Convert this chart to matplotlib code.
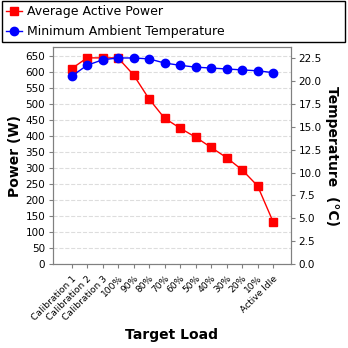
import matplotlib
matplotlib.use("Agg")
import matplotlib.pyplot as plt

loads = ["Calibration 1", "Calibration 2", "Calibration 3", "100%", "90%", "80%",
         "70%", "60%", "50%", "40%", "30%", "20%", "10%", "Active Idle"]
power = [609, 643, 643, 643, 590, 515, 455, 424, 396, 364, 332, 294, 244, 132]
temp = [20.5, 21.7, 22.3, 22.5, 22.5, 22.4, 21.95, 21.7, 21.5, 21.4, 21.3, 21.2, 21.1, 20.9]

fig = plt.figure(figsize=(3.48, 3.48), dpi=100)
ax = fig.add_axes([0.152, 0.241, 0.684, 0.624])
ax2 = ax.twinx()

x = list(range(len(loads)))
l1, = ax.plot(x, power, color="red", marker="s", markersize=6, linewidth=1, label="Average Active Power")
l2, = ax2.plot(x, temp, color="blue", marker="o", markersize=6, linewidth=1, label="Minimum Ambient Temperature")

ax.set_xlim(-1.2, 14.15)
ax.set_ylim(0, 677)
ax2.set_ylim(0, 23.7)
ax.set_yticks(range(0, 651, 50))
ticks2 = [0, 2.5, 5, 7.5, 10, 12.5, 15, 17.5, 20, 22.5]
ax2.set_yticks(ticks2)
ax2.set_yticklabels(["%.1f" % v for v in ticks2])
ax.set_xticks(x)
ax.set_xticklabels(loads, rotation=45, ha="right", rotation_mode="anchor", fontsize=6.6)
ax.grid(axis="y", linestyle="--", color="#dddddd", linewidth=0.8)
ax.set_axisbelow(True)

for a in (ax, ax2):
    for s in a.spines.values():
        s.set_color("gray")
    a.tick_params(axis="y", labelsize=7.5, color="gray", length=3, pad=2.5)
ax.tick_params(axis="x", color="gray", length=3, pad=4)

ax.set_xlabel("Target Load", fontsize=10, fontweight="bold", va="center")
ax.xaxis.set_label_coords(0.5, -0.327)
ax.set_ylabel("Power (W)", fontsize=10, fontweight="bold", va="center")
ax.yaxis.set_label_coords(-0.158, 0.5)
ax2.set_ylabel("Temperature  (°C)", fontsize=10, fontweight="bold", rotation=270, va="center")
ax2.yaxis.set_label_coords(1.172, 0.5)

leg = fig.legend(handles=[l1, l2], loc="upper left", bbox_to_anchor=(0.005, 0.878, 0.985, 0.12),
                 mode="expand", fontsize=9, fancybox=False, framealpha=1,
                 borderaxespad=0, handlelength=1.3, handletextpad=0.4, borderpad=0.35, labelspacing=0.55)
leg.get_frame().set_edgecolor("black")

fig.savefig("out.png", dpi=100)
